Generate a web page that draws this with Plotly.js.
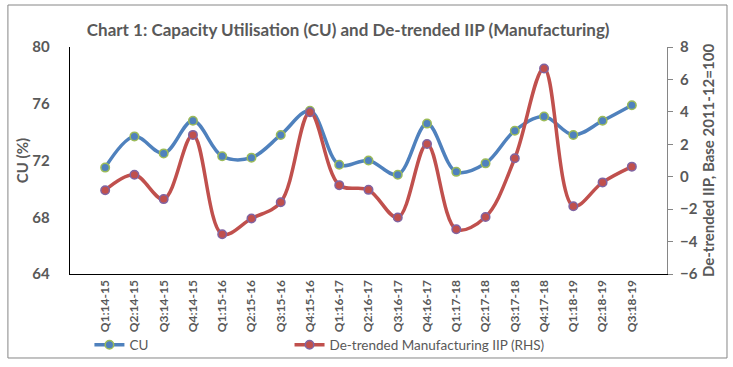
<!DOCTYPE html>
<html>
<head>
<meta charset="utf-8">
<script src="https://cdn.plot.ly/plotly-3.0.1.min.js"></script>
<style>html,body{margin:0;padding:0;background:#fff;}#chart{width:733px;height:367px;}</style>
</head>
<body>
<div id="chart"></div>
<script>
const quarters = ["Q1:14-15","Q2:14-15","Q3:14-15","Q4:14-15","Q1:15-16","Q2:15-16","Q3:15-16","Q4:15-16","Q1:16-17","Q2:16-17","Q3:16-17","Q4:16-17","Q1:17-18","Q2:17-18","Q3:17-18","Q4:17-18","Q1:18-19","Q2:18-19","Q3:18-19"];
const cuValues = [71.5,73.7,72.5,74.8,72.3,72.2,73.8,75.5,71.7,72.0,71.0,74.6,71.2,71.8,74.1,75.1,73.8,74.8,75.9];
const iipValues = [-0.83,0.12,-1.38,2.58,-3.55,-2.58,-1.57,3.98,-0.52,-0.81,-2.52,2.02,-3.24,-2.48,1.14,6.67,-1.82,-0.35,0.62];
const yTicksLeft = [64,68,72,76,80];
const yTicksRight = [-6,-4,-2,0,2,4,6,8];

const FONT = "Lato, 'Open Sans', 'Liberation Sans', sans-serif";
const GRAY = "#595959";

const traces = [
  {
    x: quarters, y: cuValues, name: "CU", type: "scatter", mode: "lines+markers",
    line: {color: "#4F81BD", width: 3.5, shape: "spline", smoothing: 1},
    marker: {color: "#4F81BD", size: 8.5, line: {color: "#9BBB59", width: 1.5}},
    yaxis: "y", legend: "legend"
  },
  {
    x: quarters, y: iipValues, name: "De-trended Manufacturing IIP (RHS)", type: "scatter", mode: "lines+markers",
    line: {color: "#C0504D", width: 3.5, shape: "spline", smoothing: 1},
    marker: {color: "#C0504D", size: 8.5, line: {color: "#8064A2", width: 1.5}},
    yaxis: "y2", legend: "legend2"
  }
];

const legendFont = {family: FONT, size: 13.5, color: GRAY};
const layout = {
  width: 733, height: 367,
  margin: {l: 70, r: 66, t: 47, b: 93},
  paper_bgcolor: "#fff", plot_bgcolor: "#fff",
  font: {family: FONT, color: GRAY},
  showlegend: true,
  title: {
    text: "Chart 1: Capacity Utilisation (CU) and De-trended IIP (Manufacturing)",
    font: {family: FONT, size: 17, color: GRAY, weight: "bold"},
    x: 0.475, xanchor: "center", y: 0.918, yanchor: "middle"
  },
  xaxis: {
    type: "category", showgrid: false, showline: true, linecolor: "#000", linewidth: 1.3,
    ticks: "", tickangle: -90, automargin: false,
    tickfont: {family: FONT, size: 12, color: GRAY, weight: "bold"},
    zeroline: false
  },
  yaxis: {
    range: [64, 80], tickvals: yTicksLeft, showgrid: false, zeroline: false, automargin: false,
    showline: true, linecolor: "#000", linewidth: 1.3, ticks: "", ticklabelstandoff: 16,
    tickfont: {family: FONT, size: 15, color: GRAY, weight: "bold"},
    title: {text: "CU (%)", font: {family: FONT, size: 15, color: GRAY, weight: "bold"}, standoff: 0}
  },
  yaxis2: {
    range: [-6, 8], tickvals: yTicksRight, overlaying: "y", side: "right", automargin: false,
    showgrid: false, zeroline: false, showline: true, linecolor: "#868686", linewidth: 1,
    ticks: "outside", ticklen: 5, tickcolor: "#868686", ticklabelstandoff: 4,
    tickfont: {family: FONT, size: 15, color: GRAY, weight: "bold"},
    title: {text: "De-trended IIP, Base 2011-12=100", font: {family: FONT, size: 15, color: GRAY, weight: "bold"}, standoff: 6}
  },
  legend: {
    orientation: "h", xref: "container", yref: "container", x: 0.122, xanchor: "left", y: 0.06, yanchor: "middle",
    font: legendFont, itemwidth: 30, bgcolor: "rgba(0,0,0,0)"
  },
  legend2: {
    orientation: "h", xref: "container", yref: "container", x: 0.395, xanchor: "left", y: 0.06, yanchor: "middle",
    font: legendFont, itemwidth: 30, bgcolor: "rgba(0,0,0,0)"
  },
  shapes: [
    {type: "rect", xref: "paper", yref: "paper", x0: -0.104, x1: 1.1005, y0: -0.37, y1: 1.185,
     line: {color: "#868686", width: 1}, fillcolor: "rgba(0,0,0,0)", layer: "below"}
  ]
};

Plotly.newPlot("chart", traces, layout, {displayModeBar: false, staticPlot: true});
</script>
</body>
</html>
